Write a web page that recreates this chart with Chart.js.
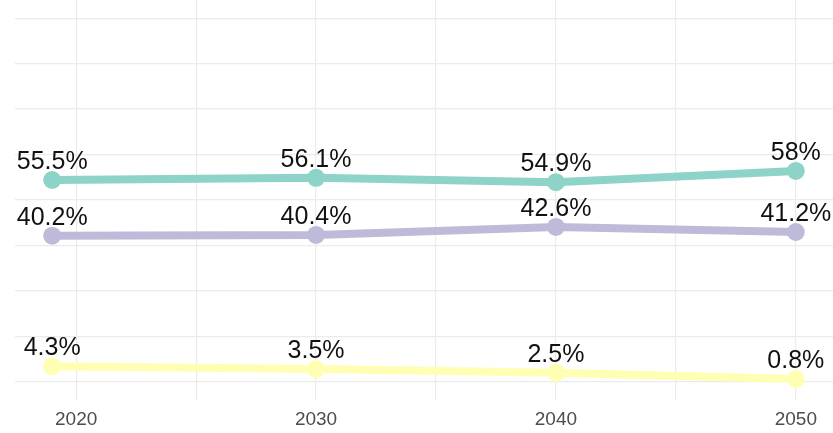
<!DOCTYPE html>
<html>
<head>
<meta charset="utf-8">
<style>
  html, body { margin: 0; padding: 0; background: #fff; }
  #wrap { width: 833px; height: 433px; }
</style>
<script src="https://cdn.jsdelivr.net/npm/chart.js@4/dist/chart.umd.min.js"></script>
</head>
<body>
<div id="wrap"><canvas id="chart"></canvas></div>
<script>
// years of each point (first point sits one year left of the 2020 tick)
const years = [2019, 2030, 2040, 2050];
const seriesTop = [55.5, 56.1, 54.9, 58];
const seriesMid = [40.2, 40.4, 42.6, 41.2];
const seriesLow = [4.3, 3.5, 2.5, 0.8];
const xTickValues = [2020, 2025, 2030, 2035, 2040, 2045, 2050];
const xLabelValues = [2020, 2030, 2040, 2050];
const yTickValues = [0, 12.5, 25, 37.5, 50, 62.5, 75, 87.5, 100];

const colors = ['#8dd3c7', '#bebada', '#ffffb3'];

function toPoints(vals) {
  return vals.map((v, i) => ({ x: years[i], y: v }));
}

function makeSet(vals, color) {
  return {
    data: toPoints(vals),
    borderColor: color,
    backgroundColor: color,
    borderWidth: 8,
    pointRadius: 9,
    pointHoverRadius: 9,
    pointBorderWidth: 0,
    tension: 0
  };
}

// labels above each point, e.g. "55.5%"
const pointLabels = {
  id: 'pointLabels',
  afterDatasetsDraw(chart) {
    const ctx = chart.ctx;
    ctx.save();
    ctx.font = '25px "Liberation Sans", Arial, sans-serif';
    ctx.fillStyle = '#111';
    ctx.textAlign = 'center';
    ctx.textBaseline = 'alphabetic';
    chart.data.datasets.forEach((ds, i) => {
      const meta = chart.getDatasetMeta(i);
      meta.data.forEach((pt, j) => {
        ctx.fillText(ds.data[j].y + '%', pt.x, pt.y - 11);
      });
    });
    ctx.restore();
  }
};

const ctx = document.getElementById('chart').getContext('2d');
new Chart(ctx, {
  type: 'line',
  data: {
    datasets: [
      makeSet(seriesTop, colors[0]),
      makeSet(seriesMid, colors[1]),
      makeSet(seriesLow, colors[2])
    ]
  },
  options: {
    responsive: true,
    maintainAspectRatio: false,
    animation: false,
    layout: { autoPadding: false, padding: { left: 15, right: 0, top: 0, bottom: 0 } },
    plugins: {
      legend: { display: false },
      tooltip: { enabled: false }
    },
    scales: {
      x: {
        type: 'linear',
        min: 2017.45,
        max: 2051.55,
        afterBuildTicks: (scale) => {
          scale.ticks = xTickValues.map(v => ({ value: v }));
        },
        afterFit: (scale) => { scale.height = 33; },
        grid: { color: '#ebebeb', lineWidth: 1.2, drawTicks: false },
        border: { display: false },
        ticks: {
          autoSkip: false,
          maxRotation: 0,
          padding: 8,
          color: '#4d4d4d',
          font: { family: '"Liberation Sans", Arial, sans-serif', size: 19 },
          callback: (v) => xLabelValues.includes(v) ? String(v) : ''
        }
      },
      y: {
        min: -5,
        max: 105,
        afterBuildTicks: (scale) => {
          scale.ticks = yTickValues.map(v => ({ value: v }));
        },
        grid: { color: '#ebebeb', lineWidth: 1.2, drawTicks: false },
        border: { display: false },
        ticks: { display: false }
      }
    }
  },
  plugins: [pointLabels]
});
</script>
</body>
</html>
